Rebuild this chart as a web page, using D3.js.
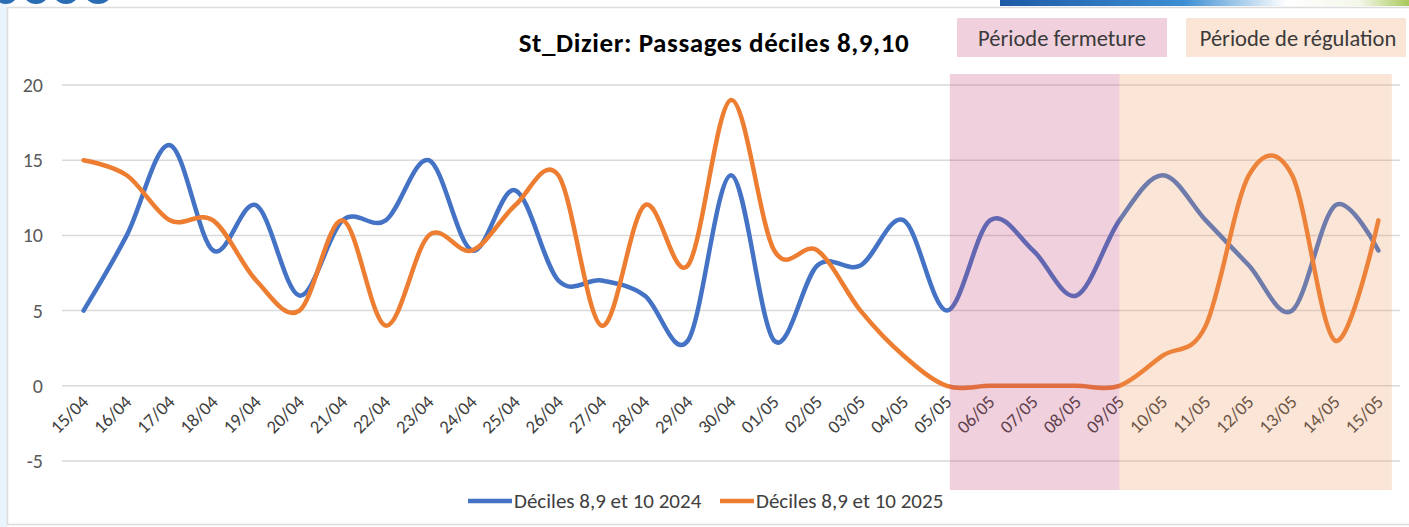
<!DOCTYPE html>
<html>
<head>
<meta charset="utf-8">
<script src="https://cdn.jsdelivr.net/npm/d3@7"></script>
<style>
  body { margin: 0; background: #fff; overflow: hidden; }
  svg { display: block; font-family: Carlito, Lato, "Open Sans", sans-serif; }
</style>
</head>
<body>
<div id="chart"></div>
<script>
// --- data ---
const days = ['15/04','16/04','17/04','18/04','19/04','20/04','21/04','22/04','23/04','24/04',
  '25/04','26/04','27/04','28/04','29/04','30/04','01/05','02/05','03/05','04/05','05/05',
  '06/05','07/05','08/05','09/05','10/05','11/05','12/05','13/05','14/05','15/05']
const values2024 = [5,10,16,9,12,6,11,11,15,9,13,7,7,6,3,14,3,8,8,11,5,11,9,6,11,14,11,8,5,12,9]
const values2025 = [15,14,11,11,7,5,11,4,10,9,12,14,4,12,8,19,9,9,5,2,0,0,0,0,0,2,4,14,14,3,11]
const yTicks = [-5, 0, 5, 10, 15, 20]
const seriesNames = ['Déciles 8,9 et 10 2024', 'Déciles 8,9 et 10 2025']
const closurePeriod = ['05/05', '09/05']
const regulationPeriod = ['09/05', '15/05']
const periodLabels = ['Période fermeture', 'Période de régulation']

const W = 1409, H = 527
const blue = '#4472c4', orange = '#ed7d31'

const svg = d3.select('#chart').append('svg')
  .attr('width', W)
  .attr('height', H)
  .attr('xmlns', 'http://www.w3.org/2000/svg')

// bits of the slide around the chart
svg.append('rect').attr('x', 0).attr('y', 0).attr('width', 7).attr('height', H).attr('fill', '#eaf4fc')
let logo = svg.append('g').attr('fill', '#2a6db5')
;[[6, 12], [36, 13], [66, 13], [98, 14]].forEach(([cx, rx]) => {
  logo.append('ellipse').attr('cx', cx).attr('cy', -8).attr('rx', rx).attr('ry', 12)
})
let grad = svg.append('defs').append('linearGradient').attr('id', 'topbar')
grad.append('stop').attr('offset', '0%').attr('stop-color', '#1d5aa6')
grad.append('stop').attr('offset', '45%').attr('stop-color', '#3d8fd3')
grad.append('stop').attr('offset', '70%').attr('stop-color', '#ffffff')
grad.append('stop').attr('offset', '88%').attr('stop-color', '#f3f7e8')
grad.append('stop').attr('offset', '100%').attr('stop-color', '#a9c95a')
svg.append('rect').attr('x', 1000).attr('y', 0).attr('width', 409).attr('height', 6).attr('fill', 'url(#topbar)')
svg.append('rect')
  .attr('x', 7.5).attr('y', 7.5).attr('width', 1420).attr('height', 517)
  .attr('fill', '#fff').attr('stroke', '#dcdcdc').attr('stroke-width', 1.5)

// scales
const x = d3.scaleBand().domain(days).range([62, 1400]).padding(0)
const xc = d => x(d) + x.bandwidth() / 2
const y = d3.scaleLinear().domain([-5, 20]).range([461, 85])

// grid
svg.append('g')
  .selectAll('line')
  .data(yTicks)
  .join('line')
  .attr('x1', 62).attr('x2', 1400)
  .attr('y1', d => y(d)).attr('y2', d => y(d))
  .attr('stroke', '#d9d9d9').attr('stroke-width', 1.5)

// y labels
svg.append('g')
  .selectAll('text')
  .data(yTicks)
  .join('text')
  .attr('x', 43)
  .attr('y', d => y(d))
  .attr('dy', '0.35em')
  .attr('text-anchor', 'end')
  .attr('font-size', 20)
  .attr('fill', '#595959')
  .text(d => d)

// x labels, slanted
svg.append('g')
  .selectAll('text')
  .data(days)
  .join('text')
  .attr('transform', d => `translate(${xc(d) + 6},${403}) rotate(-45)`)
  .attr('text-anchor', 'end')
  .attr('font-size', 18.5)
  .attr('fill', '#404040')
  .text(d => d)

// lines
const line = d3.line()
  .x((d, i) => xc(days[i]))
  .y(d => y(d))
  .curve(d3.curveCatmullRom.alpha(0))

svg.append('path')
  .attr('d', line(values2024))
  .attr('fill', 'none').attr('stroke', blue).attr('stroke-width', 4.5)
  .attr('stroke-linecap', 'round').attr('stroke-linejoin', 'round')
svg.append('path')
  .attr('d', line(values2025))
  .attr('fill', 'none').attr('stroke', orange).attr('stroke-width', 4.5)
  .attr('stroke-linecap', 'round').attr('stroke-linejoin', 'round')

// shaded periods (translucent, on top of the lines like the pasted shapes)
svg.append('rect')
  .attr('x', xc(closurePeriod[0]) + 3)
  .attr('y', 74)
  .attr('width', xc(closurePeriod[1]) - xc(closurePeriod[0]) - 3)
  .attr('height', 416)
  .attr('fill', 'rgb(191,67,115)').attr('fill-opacity', 0.25)
svg.append('rect')
  .attr('x', xc(regulationPeriod[0]))
  .attr('y', 74)
  .attr('width', xc(regulationPeriod[1]) - xc(regulationPeriod[0]) + x.bandwidth() * 0.31)
  .attr('height', 416)
  .attr('fill', 'rgb(239,151,91)').attr('fill-opacity', 0.25)

// title
svg.append('text')
  .attr('x', 714).attr('y', 52)
  .attr('text-anchor', 'middle')
  .attr('font-size', 27).attr('font-weight', 'bold')
  .attr('letter-spacing', 0.6)
  .attr('fill', '#000')
  .text('St_Dizier: Passages déciles 8,9,10')

// period label boxes
const boxes = [
  { x: 957, w: 210, fill: '#efd0dc' },
  { x: 1186, w: 220, fill: '#fbe5d6' }
]
boxes.forEach((b, i) => {
  svg.append('rect').attr('x', b.x).attr('y', 18).attr('width', b.w).attr('height', 39).attr('fill', b.fill)
  svg.append('text')
    .attr('x', b.x + (i === 0 ? 105 : 112)).attr('y', 46)
    .attr('text-anchor', 'middle')
    .attr('font-size', 22.5)
    .attr('fill', '#3a3a3a')
    .text(periodLabels[i])
})

// legend
const legend = [
  { x: 468, w: 44, color: blue },
  { x: 720, w: 34, color: orange }
]
legend.forEach((l, i) => {
  svg.append('line')
    .attr('x1', l.x).attr('x2', l.x + l.w)
    .attr('y1', 501).attr('y2', 501)
    .attr('stroke', l.color).attr('stroke-width', 4.5)
  svg.append('text')
    .attr('x', l.x + l.w + 2).attr('y', 508)
    .attr('font-size', 21)
    .attr('fill', '#404040')
    .text(seriesNames[i])
})
</script>
</body>
</html>
